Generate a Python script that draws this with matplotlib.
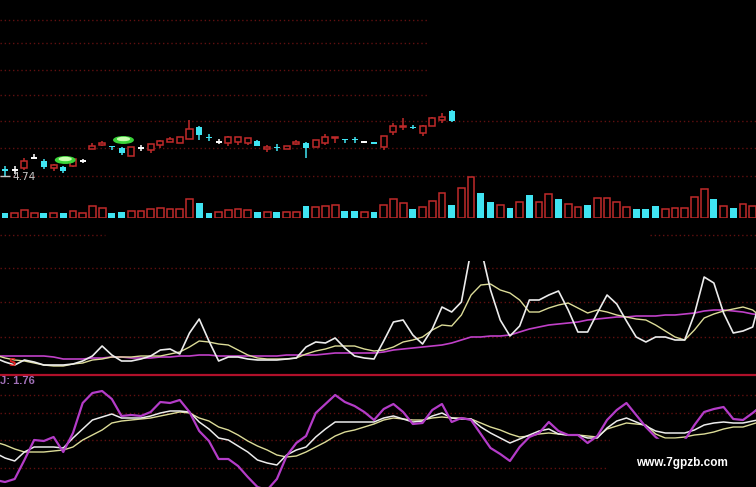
import numpy as np
import matplotlib.pyplot as plt
from matplotlib.patches import Ellipse, Rectangle

# price candles (only the first 47 days are visible in the price window)
opens  = [4.81, 4.80, 4.82, 4.92, 4.89, 4.82, 4.83, 4.84, 4.89, 5.01,
          5.05, 5.04, 5.02, 4.94, 5.02, 5.00, 5.05, 5.08, 5.07, 5.11,
          5.23, 5.13, 5.08, 5.07, 5.08, 5.07, 5.09, 5.01, 5.03, 5.01,
          5.06, 5.07, 5.03, 5.07, 5.12, 5.11, 5.11, 5.08, 5.08, 5.03,
          5.18, 5.23, 5.23, 5.17, 5.24, 5.30, 5.39]
highs  = [4.84, 4.84, 4.92, 4.96, 4.91, 4.86, 4.84, 4.92, 4.91, 5.07,
          5.09, 5.04, 5.03, 5.03, 5.05, 5.06, 5.10, 5.13, 5.13, 5.30,
          5.24, 5.16, 5.11, 5.14, 5.13, 5.12, 5.10, 5.05, 5.06, 5.04,
          5.10, 5.08, 5.10, 5.16, 5.13, 5.11, 5.13, 5.09, 5.08, 5.14,
          5.27, 5.32, 5.25, 5.25, 5.33, 5.37, 5.40]
lows   = [4.74, 4.76, 4.80, 4.92, 4.81, 4.79, 4.77, 4.83, 4.87, 5.01,
          5.04, 5.00, 4.95, 4.94, 4.99, 4.97, 5.02, 5.08, 5.07, 5.11,
          5.10, 5.09, 5.06, 5.04, 5.05, 5.05, 5.04, 4.98, 4.99, 5.01,
          5.05, 4.92, 5.03, 5.05, 5.07, 5.07, 5.07, 5.07, 5.06, 5.00,
          5.15, 5.20, 5.21, 5.14, 5.24, 5.27, 5.28]
closes = [4.79, 4.80, 4.89, 4.92, 4.83, 4.85, 4.79, 4.91, 4.89, 5.04,
          5.07, 5.03, 4.97, 5.03, 5.02, 5.06, 5.09, 5.11, 5.13, 5.21,
          5.15, 5.12, 5.08, 5.13, 5.13, 5.12, 5.04, 5.03, 5.02, 5.04,
          5.08, 5.02, 5.10, 5.13, 5.13, 5.10, 5.10, 5.08, 5.06, 5.14,
          5.24, 5.24, 5.22, 5.24, 5.32, 5.33, 5.29]

volume = [5, 5, 8, 5, 5, 5, 5, 7, 5, 12, 10, 5, 6, 7, 7, 9, 10, 9, 9, 19,
          15, 5, 6, 8, 9, 8, 6, 6, 6, 6, 6, 12, 11, 12, 13, 7, 7, 6, 6, 13,
          19, 15, 9, 11, 17, 25, 13, 30, 41, 25, 16, 13, 10, 16, 23, 16, 24, 19, 14, 11,
          13, 20, 20, 16, 11, 9, 9, 12, 9, 10, 10, 21, 29, 19, 12, 10, 14, 12]
vol_up = [0, 1, 1, 1, 0, 1, 0, 1, 1, 1, 1, 0, 0, 1, 1, 1, 1, 1, 1, 1,
          0, 0, 1, 1, 1, 1, 0, 1, 0, 1, 1, 0, 1, 1, 1, 0, 0, 1, 0, 1,
          1, 1, 0, 1, 1, 1, 0, 1, 1, 0, 0, 1, 0, 1, 0, 1, 1, 0, 1, 1,
          0, 1, 1, 1, 1, 0, 0, 0, 1, 1, 1, 1, 1, 0, 1, 0, 1, 1]

signal_day = [6, 12]
signal_price = [4.90, 5.10]
low_label = 4.74

# middle indicator, days -1 .. 78
ind_white = [17, 13, 10, 15, 13, 10, 10, 10, 11, 14, 19, 29, 20, 14, 14, 16, 19, 25, 26, 21,
             42, 56, 34, 14, 18, 18, 16, 15, 15, 15, 16, 17, 28, 33, 32, 37, 27, 19, 17, 16,
             34, 53, 55, 40, 31, 46, 68, 63, 73, 125, 127, 85, 55, 39, 49, 75, 75, 80, 84, 65,
             43, 43, 62, 80, 71, 54, 38, 33, 38, 38, 35, 35, 61, 98, 92, 62, 42, 44, 48, 85]
ind_yellow = [20, 17, 15, 14, 12, 10, 9, 9, 11, 12, 15, 16, 18, 18, 18, 19, 19, 19, 21, 23,
              28, 34, 33, 31, 30, 25, 20, 17, 16, 16, 16, 17, 21, 24, 26, 29, 29, 29, 26, 24,
              25, 28, 33, 35, 38, 45, 50, 49, 60, 80, 90, 91, 85, 82, 75, 63, 63, 67, 70, 72,
              67, 62, 65, 63, 60, 58, 56, 55, 50, 44, 38, 35, 45, 57, 61, 64, 66, 68, 65, 57]
ind_magenta = [19, 19, 19, 19, 19, 19, 18, 16, 16, 16, 17, 17, 18, 18, 17, 17, 17, 18, 18, 19,
               19, 20, 20, 19, 19, 19, 19, 19, 19, 19, 20, 20, 20, 20, 21, 22, 22, 22, 22, 22,
               23, 25, 26, 27, 28, 29, 30, 32, 35, 38, 38, 39, 39, 40, 43, 46, 48, 50, 51, 52,
               53, 55, 56, 57, 58, 58, 59, 59, 59, 60, 60, 61, 62, 64, 65, 65, 64, 63, 61, 60]

# KDJ, days -1 .. 78
k_line = [34, 29, 26, 35, 40, 40, 40, 39, 49, 58, 67, 70, 73, 69, 69, 69, 71, 74, 76, 76,
          75, 65, 58, 49, 47, 41, 35, 27, 24, 22, 32, 37, 40, 50, 58, 65, 65, 65, 65, 65,
          69, 71, 68, 65, 66, 71, 74, 69, 68, 68, 60, 54, 49, 44, 48, 52, 56, 58, 53, 52,
          52, 49, 49, 59, 66, 69, 65, 61, 56, 54, 54, 54, 57, 62, 64, 65, 64, 64, 66, 68]
d_line = [45, 42, 38, 35, 35, 35, 36, 37, 40, 47, 52, 57, 64, 66, 67, 68, 69, 71, 73, 75,
          74, 69, 66, 60, 57, 52, 46, 41, 37, 32, 30, 31, 35, 40, 45, 51, 55, 57, 60, 63,
          67, 69, 68, 67, 67, 69, 70, 69, 69, 68, 64, 60, 57, 53, 50, 51, 53, 54, 53, 52,
          52, 51, 50, 58, 61, 64, 63, 62, 53, 49, 49, 50, 52, 53, 55, 58, 60, 60, 63, 66]
j_line = [7, 5, 8, 27, 47, 46, 50, 35, 54, 84, 94, 96, 88, 71, 72, 71, 75, 85, 84, 87,
          75, 56, 46, 28, 28, 21, 10, 0, -3, 8, 31, 44, 51, 74, 83, 92, 85, 81, 75, 67,
          78, 83, 75, 63, 64, 77, 83, 65, 69, 67, 53, 39, 33, 26, 40, 50, 54, 65, 56, 52,
          52, 44, 51, 67, 77, 84, 72, 60, 50, 42, 37, 47, 62, 75, 78, 80, 68, 67, 74, 82]
j_last = 1.76

price_grid_short = [6.30, 6.07, 5.80, 5.55]
price_grid_long = [5.29, 5.02, 4.74]
price_grid_gap = 4.15
ind_grid = [107, 73, 38]
kdj_grid = [92, 74, 47]
kdj_grid_short = 19

RED = '#c02a2a'
CYAN = '#40e4f2'
GRID = '#601010'
W, H = 756, 487

fig = plt.figure(figsize=(W / 100, H / 100), dpi=100, facecolor='black')


def panel(top, bottom):
    ax = fig.add_axes([0, 1 - bottom / H, 1, (bottom - top) / H])
    ax.set_facecolor('none')
    ax.set_axis_off()
    ax.set_xlim(-0.515, 77.34)
    return ax


def grid(ax, y, x0=0, x1=1):
    ax.axhline(y, x0, x1, color=GRID, lw=1.0, ls=(0, (1, 2)), zorder=0)


# ---- price window
ax_p = panel(0, 240)
ax_p.set_ylim(4.10, 6.50)
for g in price_grid_short:
    grid(ax_p, g, 0, 427 / W)
for g in price_grid_long:
    grid(ax_p, g)
grid(ax_p, price_grid_gap, 0, 105 / W)
grid(ax_p, price_grid_gap, 650 / W, 1)

o, h, l, c = map(np.array, (opens, highs, lows, closes))
x = np.arange(len(o))
top, bot = np.maximum(o, c), np.minimum(o, c)
up, dn, fl = c > o, c < o, c == o
for m, col in ((up, RED), (dn, CYAN)):
    ax_p.vlines(x[m], top[m], h[m], color=col, lw=1.1)
    ax_p.vlines(x[m], l[m], bot[m], color=col, lw=1.1)
ax_p.bar(x[up], (c - o)[up], bottom=o[up], width=0.62, facecolor='black',
         edgecolor=RED, lw=1.1, zorder=3)
ax_p.bar(x[dn], (o - c)[dn], bottom=c[dn], width=0.62, color=CYAN, zorder=3)
ax_p.vlines(x[fl], l[fl], h[fl], color='white', lw=1.1)
ax_p.hlines(o[fl], x[fl] - 0.32, x[fl] + 0.32, color='white', lw=1.4)

for d, p in zip(signal_day, signal_price):
    ax_p.add_patch(Ellipse((d + 0.2, p), 2.0, 0.065, color='#3ad43a', zorder=4))
    ax_p.add_patch(Ellipse((d + 0.2, p + 0.01), 1.2, 0.03, color='#c8ffb0', zorder=5))

ax_p.hlines(low_label, -0.5, 0.5, color='#c8c8c8', lw=1)
ax_p.text(0.8, low_label - 0.012, f'{low_label:.2f}', color='#c8c8c8',
          fontsize=7.5, va='center', ha='left')

# ---- volume
ax_v = panel(150, 218)
ax_v.set_ylim(0, 68)
vx = np.arange(len(volume))
vol = np.array(volume)
vu = np.array(vol_up, dtype=bool)
ax_v.bar(vx[vu], vol[vu], width=0.7, facecolor='black', edgecolor=RED, lw=1.1)
ax_v.bar(vx[~vu], vol[~vu], width=0.7, color=CYAN)

# ---- middle indicator
days = np.arange(-1, 79)
ax_i = panel(261, 375)
ax_i.set_ylim(0, 114)
for g in ind_grid:
    grid(ax_i, g)
ax_i.plot(days, ind_magenta, color='#c040c8', lw=1.2)
ax_i.plot(days, ind_yellow, color='#dcdc98', lw=1.0)
ax_i.plot(days, ind_white, color='#ececec', lw=1.2)
ax_i.axhline(0, color='#b0102a', lw=1.6, clip_on=False)
ax_i.text(0.75, 12, 'S', color='#e02020', fontsize=7.5, fontweight='bold',
          ha='center', va='center')

# ---- KDJ
ax_k = panel(378, 487)
ax_k.set_ylim(0, 109)
for g in kdj_grid:
    grid(ax_k, g)
grid(ax_k, kdj_grid_short, 0, 608 / W)
ax_k.plot(days, d_line, color='#dcdc98', lw=1.0)
ax_k.plot(days, k_line, color='#ececec', lw=1.1)
ax_k.plot(days, j_line, color='#b43cc8', lw=1.6)
ax_k.text(-0.5, 106, f'J: {j_last}', color='#a070b8', fontsize=8,
          fontweight='bold', ha='left', va='center', family='Liberation Sans')

# watermark box
fig.add_artist(Rectangle((610 / W, 0), 146 / W, 48 / H, transform=fig.transFigure,
                         color='black', zorder=10))
fig.text(682 / W, 1 - 463 / H, 'www.7gpzb.com', color='white', fontsize=8.5,
         fontweight='bold', family='Liberation Sans', ha='center', va='center', zorder=11)

fig.savefig('out.png', dpi=100, facecolor='black')
